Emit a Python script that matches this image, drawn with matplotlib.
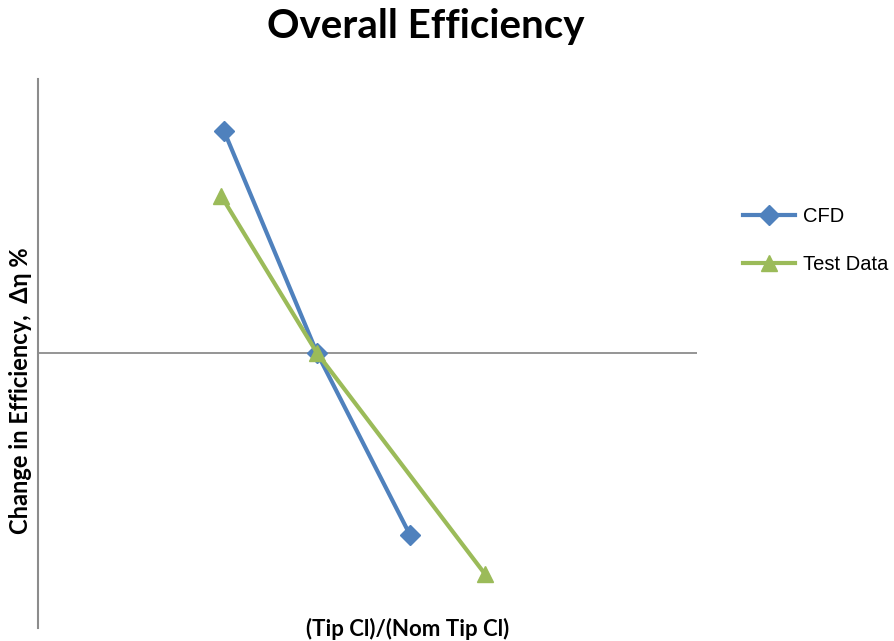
import matplotlib.pyplot as plt

# values (x = tip Cl ratio, y = change in efficiency %)
cfd_x = [0.8, 1.0, 1.2]
cfd_y = [2.22, 0.0, -1.82]
test_x = [0.794, 1.0, 1.361]
test_y = [1.57, 0.0, -2.21]

BLUE = "#4F81BD"
GREEN = "#9BBB59"
AXIS_GREY = "#8C8C8C"

fig = plt.figure(figsize=(8.95, 6.41), dpi=100)
ax = fig.add_axes([38 / 895, 13 / 641, 659 / 895, 549 / 641])

ax.plot(cfd_x, cfd_y, color=BLUE, lw=3, marker="D", ms=10, label="CFD")
ax.plot(test_x, test_y, color=GREEN, lw=3, marker="^", ms=12, label="Test Data")

ax.set_xlim(0.4, 1.817)
ax.set_ylim(-2.75, 2.74)
ax.axhline(0, color=AXIS_GREY, lw=1.3, zorder=0)

for side in ["top", "right", "bottom"]:
    ax.spines[side].set_visible(False)
ax.spines["left"].set_color(AXIS_GREY)
ax.spines["left"].set_linewidth(1.5)
ax.set_xticks([])
ax.set_yticks([])

fig.text(0.476, 0.958, "Overall Efficiency", ha="center", va="center",
         fontsize=29, fontweight="bold", family="Lato")
fig.text(0.455, 0.019, "(Tip Cl)/(Nom Tip Cl)", ha="center", va="center",
         fontsize=16, fontweight="bold", family="Lato")
fig.text(0.023, 0.39, "Change in Efficiency,  \u0394\u03b7 %", ha="center", va="center",
         rotation=90, fontsize=17, fontweight="bold", family="Lato")

fig.legend(loc="upper left", bbox_to_anchor=(0.810, 0.706), frameon=False,
           handlelength=2.6, handletextpad=0.4, labelspacing=1.45,
           prop={"family": "Liberation Sans", "size": 14.5})

fig.savefig("out.png", dpi=100)
